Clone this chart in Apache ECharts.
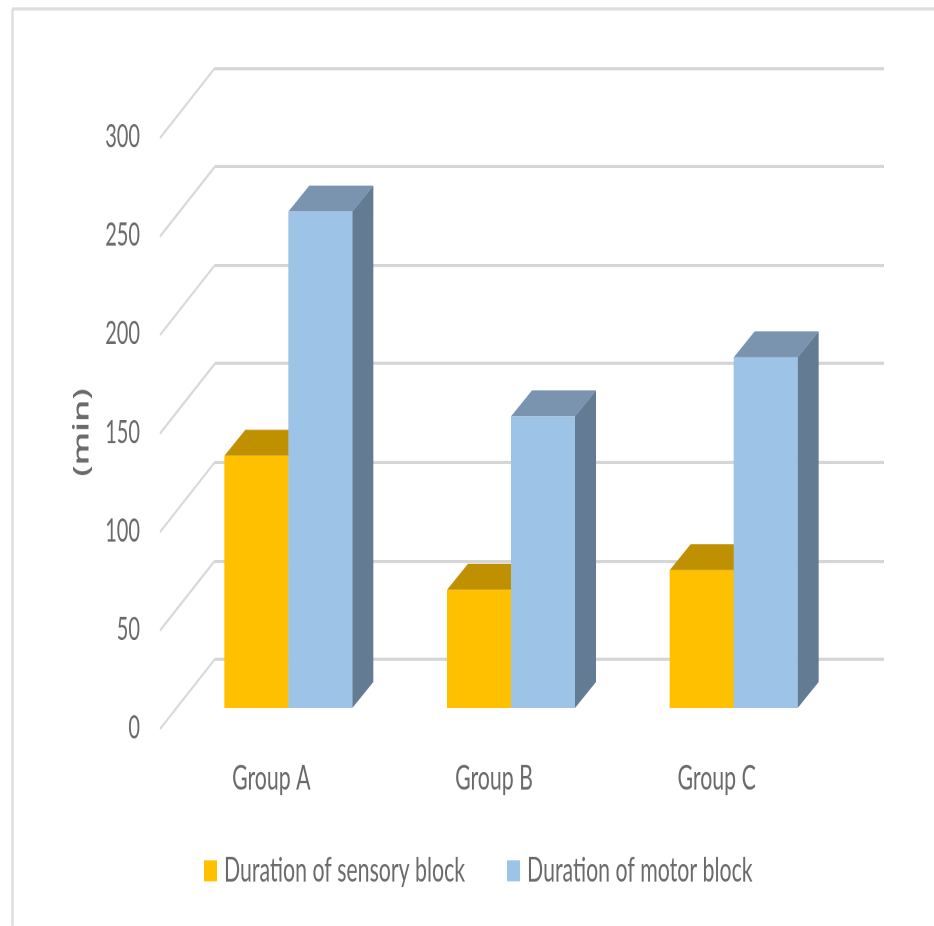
<!DOCTYPE html>
<html>
<head>
<meta charset="utf-8">
<style>
html,body{margin:0;padding:0;background:#fff;overflow:hidden;width:934px;height:926px}
#chart{width:934px;transform-origin:0 0}
</style>
<script src="https://cdn.jsdelivr.net/npm/echarts@6/dist/echarts.min.js"></script>
</head>
<body>
<div id="chart"></div>
<script>
const categories = ['Group A', 'Group B', 'Group C'];
const sensoryBlock = [128, 60, 70];
const motorBlock = [252, 148, 178];
const yTicks = [0, 50, 100, 150, 200, 250, 300];

// The whole drawing is laid out at a reduced height and stretched back vertically,
// which gives the tall, condensed lettering. vy converts page pixels to layout pixels.
const stretch = 1.6;
const vy = y => y / stretch;

// Oblique projection of the 3D box: full floor depth, and the depth of one bar.
const floorDepth = [55, vy(-70)];
const barDepth = [21, vy(-26)];
const barWidth = 64;
const textFont = 'Lato, "Open Sans", sans-serif';
const textColor = '#6a6a6a';

// Draws one extruded bar; side is -1 for the left bar of a pair and 0 for the right one.
function boxRenderer(side, front, top, flank) {
  return function (params, api) {
    const base = api.coord([api.value(0), 0]);
    const head = api.coord([api.value(0), api.value(1)]);
    const x0 = base[0] + side * barWidth;
    const x1 = x0 + barWidth;
    const [dx, dy] = barDepth;
    return {
      type: 'group',
      children: [
        { type: 'polygon', shape: { points: [[x1, head[1]], [x1 + dx, head[1] + dy], [x1 + dx, base[1] + dy], [x1, base[1]]] }, style: { fill: flank } },
        { type: 'polygon', shape: { points: [[x0, head[1]], [x0 + dx, head[1] + dy], [x1 + dx, head[1] + dy], [x1, head[1]]] }, style: { fill: top } },
        { type: 'rect', shape: { x: x0, y: head[1], width: barWidth, height: base[1] - head[1] }, style: { fill: front } }
      ]
    };
  };
}

// Slanted gridline running from the front plane back to the wall.
function slantRenderer(params, api) {
  const p = api.coord([0, api.value(0)]);
  const left = params.coordSys.x;
  return {
    type: 'line',
    shape: { x1: left, y1: p[1], x2: left - floorDepth[0], y2: p[1] - floorDepth[1] },
    style: { stroke: '#d8d8d8', lineWidth: 1.6 }
  };
}

const el = document.getElementById('chart');
el.style.height = vy(926) + 'px';
el.style.transform = 'scaleY(' + stretch + ')';

const chart = echarts.init(el, null, { devicePixelRatio: 2 });
chart.setOption({
  animation: false,
  backgroundColor: '#ffffff',
  graphic: [
    { type: 'line', shape: { x1: 12, y1: vy(9), x2: 934, y2: vy(9) }, style: { stroke: '#dedede', lineWidth: 2 } },
    { type: 'line', shape: { x1: 12.5, y1: vy(9), x2: 12.5, y2: vy(926) }, style: { stroke: '#dedede', lineWidth: 2.5 } }
  ],
  legend: {
    left: 199, top: vy(846), width: 700, itemWidth: 13, itemHeight: vy(21), itemGap: 42,
    icon: 'rect',
    textStyle: { fontFamily: textFont, fontSize: 21.3, color: textColor, padding: [0, 0, 0, 2] },
    data: ['Duration of sensory block', 'Duration of motor block']
  },
  grid: [
    { left: 160, width: 668, top: vy(137), height: vy(591) },
    { left: 215, width: 669, top: vy(68), height: vy(591) },
    { left: 177, width: 668, top: vy(117), height: vy(591) }
  ],
  xAxis: [
    { gridIndex: 0, type: 'category', data: categories, axisLine: { show: false }, axisTick: { show: false }, axisLabel: { fontFamily: textFont, fontSize: 21.3, color: textColor, margin: 21 } },
    { gridIndex: 1, type: 'category', data: categories, show: false },
    { gridIndex: 2, type: 'category', data: categories, show: false }
  ],
  yAxis: [
    {
      gridIndex: 0, type: 'value', min: 0, max: 300, interval: 50,
      name: '(min)', nameLocation: 'middle', nameRotate: 90, nameGap: 67,
      nameTextStyle: { fontFamily: '"Open Sans", sans-serif', fontWeight: 600, fontSize: 22, color: textColor },
      splitLine: { show: false }, axisLine: { show: false }, axisTick: { show: false },
      axisLabel: { fontFamily: textFont, fontSize: 20, color: textColor, margin: 20 }
    },
    { gridIndex: 1, type: 'value', min: 0, max: 300, interval: 50, axisLabel: { show: false }, axisLine: { show: false }, axisTick: { show: false }, splitLine: { show: true, lineStyle: { color: '#d6d6d6', width: 2 } } },
    { gridIndex: 2, type: 'value', min: 0, max: 300, interval: 50, show: false, splitLine: { show: false } }
  ],
  series: [
    {
      name: 'slant', type: 'custom', xAxisIndex: 1, yAxisIndex: 1, silent: true,
      encode: { y: 0 }, data: yTicks.map(v => [v]), renderItem: slantRenderer, z: 1
    },
    {
      name: 'Duration of sensory block', type: 'custom', xAxisIndex: 2, yAxisIndex: 2, z: 2,
      itemStyle: { color: '#FFC000' }, encode: { x: 0, y: 1 },
      data: sensoryBlock.map((v, i) => [i, v]),
      renderItem: boxRenderer(-1, '#FFC000', '#BF9000', '#BF9000')
    },
    {
      name: 'Duration of motor block', type: 'custom', xAxisIndex: 2, yAxisIndex: 2, z: 3,
      itemStyle: { color: '#9DC3E6' }, encode: { x: 0, y: 1 },
      data: motorBlock.map((v, i) => [i, v]),
      renderItem: boxRenderer(0, '#9DC3E6', '#7A93AF', '#637B93')
    }
  ]
});
</script>
</body>
</html>
